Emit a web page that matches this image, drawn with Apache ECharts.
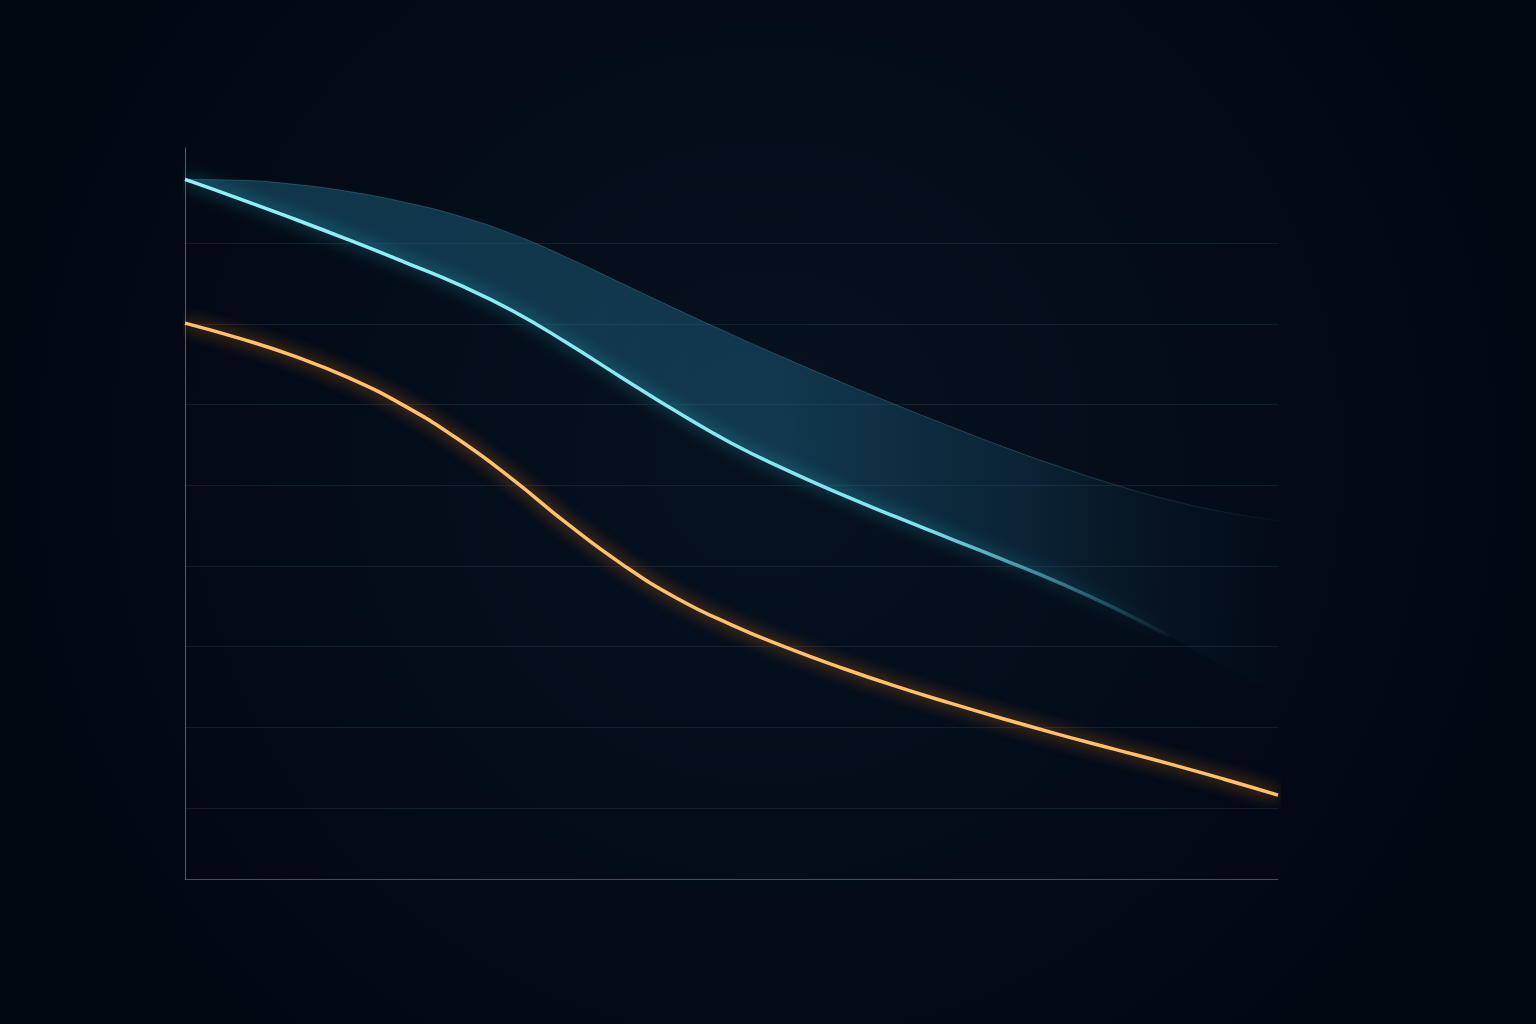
<!DOCTYPE html>
<html>
<head>
<meta charset="utf-8">
<script src="https://cdn.jsdelivr.net/npm/echarts@6/dist/echarts.min.js"></script>
<style>
html,body{margin:0;padding:0;background:#030b17;}
#chart{width:1536px;height:1024px;}
</style>
</head>
<body>
<div id="chart"></div>
<script>
// Categories (evenly spaced positions along the x axis, no labels shown)
const categories = ['0','1','2','3','4','5','6','7','8','9','10','11','12','13','14','15','16','17','18','19','20'];

// Orange line values
const orangeValues = [70.1, 68.2, 66.0, 63.3, 59.9, 55.7, 50.7, 45.2, 40.2, 36.0, 32.7, 29.9, 27.4, 25.1, 23.0, 21.0, 19.1, 17.3, 15.5, 13.6, 11.6];

// Cyan line values (line fades out before the end)
const cyanValues = [87.9, 85.5, 83.0, 80.4, 77.7, 74.9, 71.6, 67.6, 63.3, 59.1, 55.2, 51.9, 48.9, 46.1, 43.4, 40.7, 37.9, 34.8, 31.3, '-', '-'];

// Band lower bound (follows the cyan line, continues to the right edge)
const bandLower = [87.9, 85.5, 83.0, 80.4, 77.7, 74.9, 71.6, 67.6, 63.3, 59.1, 55.2, 51.9, 48.9, 46.1, 43.4, 40.7, 37.9, 34.8, 31.3, 27.6, 23.9];

// Band upper bound
const bandUpper = [87.9, 87.8, 87.3, 86.4, 85.1, 83.4, 81.1, 78.2, 75.0, 71.8, 68.7, 65.7, 62.8, 60.0, 57.3, 54.7, 52.3, 50.1, 48.2, 46.7, 45.6];

// Y axis range (no tick labels shown)
const yMin = 1.2;
const yMax = 91.8;

const bandSpread = bandUpper.map((u, i) => +(u - bandLower[i]).toFixed(2));

const chart = echarts.init(document.getElementById('chart'), null, {renderer: 'canvas'});

const gridColor = 'rgba(120,140,170,0.13)';
const splitColors = [gridColor, gridColor, gridColor, gridColor, gridColor, gridColor, gridColor, gridColor, 'rgba(0,0,0,0)'];

const option = {
  backgroundColor: new echarts.graphic.RadialGradient(0.5, 0.45, 0.75, [
    {offset: 0, color: '#06111f'},
    {offset: 0.6, color: '#040c19'},
    {offset: 1, color: '#020812'}
  ]),
  animation: false,
  grid: {left: 185, right: 258, top: 148, bottom: 145, containLabel: false},
  xAxis: {
    type: 'category',
    data: categories,
    boundaryGap: false,
    axisLine: {show: true, lineStyle: {color: 'rgba(150,160,180,0.45)', width: 1}},
    axisTick: {show: false},
    axisLabel: {show: false},
    splitLine: {show: false}
  },
  yAxis: {
    type: 'value',
    min: yMin,
    max: yMax,
    splitNumber: 9,
    axisLine: {show: true, lineStyle: {color: 'rgba(160,170,190,0.5)', width: 1}},
    axisTick: {show: false},
    axisLabel: {show: false},
    splitLine: {show: true, showMinLine: false, showMaxLine: false, lineStyle: {color: splitColors, width: 1}}
  },
  series: [
    {
      name: 'bandBase',
      type: 'line',
      data: bandLower,
      stack: 'band',
      smooth: 0.5,
      symbol: 'none',
      lineStyle: {opacity: 0},
      silent: true,
      z: 1
    },
    {
      name: 'band',
      type: 'line',
      data: bandSpread,
      stack: 'band',
      smooth: 0.5,
      symbol: 'none',
      lineStyle: {
        width: 1,
        color: new echarts.graphic.LinearGradient(0, 0, 1, 0, [
          {offset: 0, color: 'rgba(80,160,185,0.35)'},
          {offset: 0.8, color: 'rgba(80,160,185,0.3)'},
          {offset: 1, color: 'rgba(80,160,185,0.05)'}
        ])
      },
      areaStyle: {
        color: new echarts.graphic.LinearGradient(0, 0, 1, 0, [
          {offset: 0, color: 'rgba(35,120,150,0.40)'},
          {offset: 0.55, color: 'rgba(35,120,150,0.38)'},
          {offset: 0.78, color: 'rgba(30,105,135,0.22)'},
          {offset: 0.9, color: 'rgba(25,90,120,0.08)'},
          {offset: 1, color: 'rgba(25,90,120,0.0)'}
        ]),
        opacity: 1
      },
      silent: true,
      z: 1
    },
    {
      name: 'cyan',
      type: 'line',
      data: cyanValues,
      smooth: 0.5,
      symbol: 'none',
      lineStyle: {
        width: 3.5,
        color: new echarts.graphic.LinearGradient(0, 0, 1, 0, [
          {offset: 0, color: '#92f1f7'},
          {offset: 0.75, color: '#80e4ee'},
          {offset: 0.88, color: 'rgba(90,190,205,0.6)'},
          {offset: 1, color: 'rgba(60,150,170,0.05)'}
        ]),
        shadowBlur: 16,
        shadowColor: 'rgba(40,190,215,0.8)'
      },
      z: 3
    },
    {
      name: 'orange',
      type: 'line',
      data: orangeValues,
      smooth: 0.5,
      symbol: 'none',
      lineStyle: {
        width: 3.5,
        color: '#ffc167',
        shadowBlur: 16,
        shadowColor: 'rgba(255,130,20,0.9)'
      },
      z: 3
    }
  ]
};

chart.setOption(option);
</script>
</body>
</html>
